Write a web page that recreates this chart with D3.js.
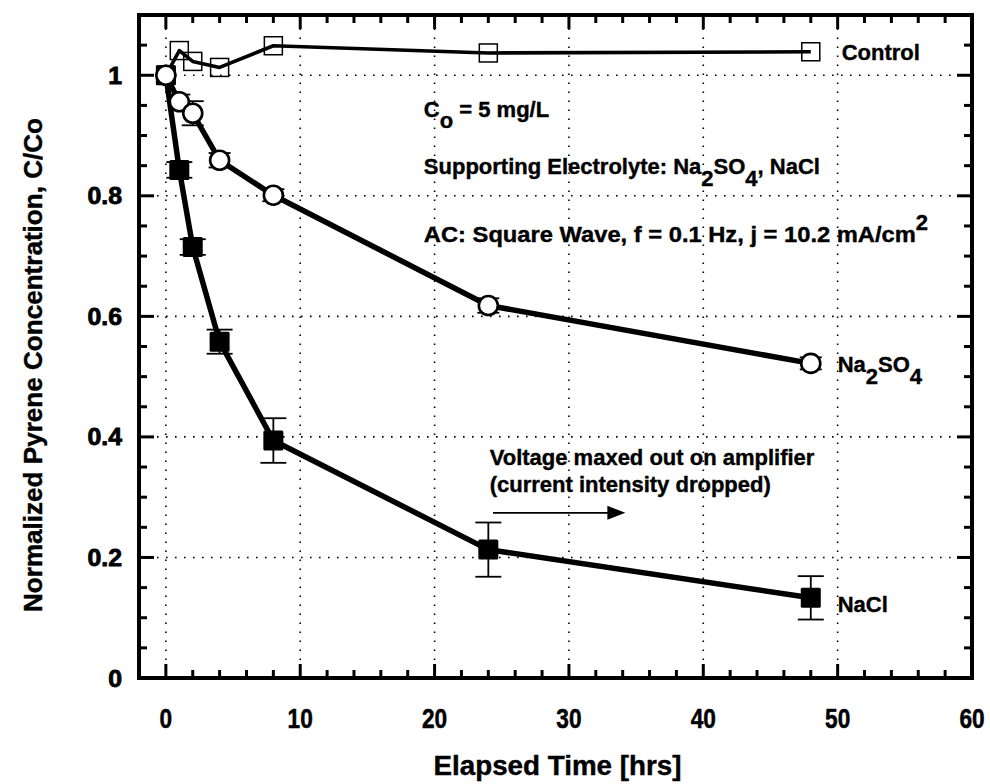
<!DOCTYPE html>
<html>
<head>
<meta charset="utf-8">
<script src="https://cdn.jsdelivr.net/npm/d3@7"></script>
<style>
  body { margin: 0; background: #fff; }
  text { font-family: "Liberation Sans", Arial, Helvetica, sans-serif; font-weight: bold; fill: #000; }
</style>
</head>
<body>
<svg id="chart" width="990" height="784"></svg>
<script>
// Elapsed time of each sample [hrs]
const hours = [0, 1, 2, 4, 8, 24, 48];

// Normalized pyrene concentration C/Co
const control = [1.0, 1.041, 1.023, 1.013, 1.049, 1.037, 1.039];
const na2so4 = [1.0, 0.956, 0.937, 0.859, 0.801, 0.618, 0.522];
const na2so4Err = [0.0, 0.012, 0.02, 0.012, 0.01, 0.012, 0.01];
const nacl = [1.0, 0.843, 0.715, 0.558, 0.394, 0.213, 0.133];
const naclErr = [0.0, 0.013, 0.013, 0.02, 0.037, 0.045, 0.036];

// Axis ticks
const xTicks = [0, 10, 20, 30, 40, 50, 60];
const xMinor = [2, 4, 6, 8, 12, 14, 16, 18, 22, 24, 26, 28, 32, 34, 36, 38, 42, 44, 46, 48, 52, 54, 56, 58];
const yTicks = [0, 0.2, 0.4, 0.6, 0.8, 1];
const yTickLabels = ["0", "0.2", "0.4", "0.6", "0.8", "1"];
const yMinor = [0.05, 0.1, 0.15, 0.25, 0.3, 0.35, 0.45, 0.5, 0.55, 0.65, 0.7, 0.75, 0.85, 0.9, 0.95, 1.05];

const W = 990, H = 784;
const m = { left: 139, right: 18, top: 15, bottom: 106 };
const svg = d3.select("#chart");

const x = d3.scaleLinear().domain([-2, 60]).range([m.left, W - m.right]);
const y = d3.scaleLinear().domain([0, 1.1]).range([H - m.bottom, m.top]);

const x0 = m.left, x1 = W - m.right, y0 = H - m.bottom, y1 = m.top;

// dotted grid at major ticks
const grid = svg.append("g").attr("stroke", "#000").attr("stroke-width", 1.6)
  .attr("stroke-dasharray", "1.6,7.4");
grid.selectAll("line.gx").data(xTicks.filter(v => v < 60)).join("line")
  .attr("x1", d => x(d)).attr("x2", d => x(d)).attr("y1", y0).attr("y2", y1);
grid.selectAll("line.gy").data(yTicks.filter(v => v > 0)).join("line")
  .attr("x1", x0).attr("x2", x1).attr("y1", d => y(d)).attr("y2", d => y(d));

// inward ticks on all four sides
const tickG = svg.append("g").attr("stroke", "#000").attr("stroke-width", 3);
function hTicks(vals, len) {
  vals.forEach(v => {
    tickG.append("line").attr("x1", x(v)).attr("x2", x(v)).attr("y1", y0).attr("y2", y0 - len);
    tickG.append("line").attr("x1", x(v)).attr("x2", x(v)).attr("y1", y1).attr("y2", y1 + len);
  });
}
function vTicks(vals, len) {
  vals.forEach(v => {
    tickG.append("line").attr("x1", x0).attr("x2", x0 + len).attr("y1", y(v)).attr("y2", y(v));
    tickG.append("line").attr("x1", x1).attr("x2", x1 - len).attr("y1", y(v)).attr("y2", y(v));
  });
}
hTicks(xTicks, 14); hTicks(xMinor, 8);
vTicks(yTicks, 15); vTicks(yMinor, 8);

// tick labels
svg.append("g").selectAll("text").data(xTicks).join("text")
  .attr("transform", d => `translate(${x(d)},728) scale(0.84,1)`)
  .attr("text-anchor", "middle").attr("font-size", 27)
  .attr("stroke", "#000").attr("stroke-width", 0.5)
  .text(d => d);
svg.append("g").selectAll("text").data(yTicks).join("text")
  .attr("transform", d => `translate(122,${y(d) + 8.5}) scale(1.08,1)`)
  .attr("text-anchor", "end").attr("font-size", 23)
  .attr("stroke", "#000").attr("stroke-width", 0.8)
  .text((d, i) => yTickLabels[i]);

// axis titles
svg.append("text").attr("x", (x0 + x1) / 2 + 2).attr("y", 775)
  .attr("text-anchor", "middle").attr("font-size", 27)
  .attr("stroke", "#000").attr("stroke-width", 0.4)
  .attr("textLength", 248).attr("lengthAdjust", "spacingAndGlyphs")
  .text("Elapsed Time [hrs]");
svg.append("text").attr("transform", "translate(42,365) rotate(-90)")
  .attr("text-anchor", "middle").attr("font-size", 25)
  .attr("stroke", "#000").attr("stroke-width", 0.4)
  .attr("textLength", 494).attr("lengthAdjust", "spacingAndGlyphs")
  .text("Normalized Pyrene Concentration, C/Co");

// series lines
const line = d3.line().x(d => x(d[0])).y(d => y(d[1]));
const pts = arr => hours.map((h, i) => [h, arr[i]]);

function errorBars(vals, errs, capHalf) {
  const g = svg.append("g").attr("stroke", "#000").attr("stroke-width", 1.8);
  hours.forEach((h, i) => {
    if (!errs[i]) return;
    const cx = x(h), top = y(vals[i] + errs[i]), bot = y(vals[i] - errs[i]);
    g.append("line").attr("x1", cx).attr("x2", cx).attr("y1", top).attr("y2", bot);
    g.append("line").attr("x1", cx - capHalf).attr("x2", cx + capHalf).attr("y1", top).attr("y2", top);
    g.append("line").attr("x1", cx - capHalf).attr("x2", cx + capHalf).attr("y1", bot).attr("y2", bot);
  });
}

// Control: open squares
svg.append("path").attr("d", line(pts(control)))
  .attr("fill", "none").attr("stroke", "#000").attr("stroke-width", 3.6).attr("stroke-linejoin", "round");
svg.append("g").selectAll("rect").data(pts(control)).join("rect")
  .attr("x", d => x(d[0]) - 9).attr("y", d => y(d[1]) - 9)
  .attr("width", 18).attr("height", 18)
  .attr("fill", "none").attr("stroke", "#000").attr("stroke-width", 1.5);

// NaCl: filled squares
svg.append("path").attr("d", line(pts(nacl)))
  .attr("fill", "none").attr("stroke", "#000").attr("stroke-width", 5.5).attr("stroke-linejoin", "round");
errorBars(nacl, naclErr, 13);
svg.append("g").selectAll("rect").data(pts(nacl)).join("rect")
  .attr("x", d => x(d[0]) - 10).attr("y", d => y(d[1]) - 10)
  .attr("width", 20).attr("height", 20).attr("rx", 1.5)
  .attr("fill", "#000");

// Na2SO4: open circles
svg.append("path").attr("d", line(pts(na2so4)))
  .attr("fill", "none").attr("stroke", "#000").attr("stroke-width", 5.5).attr("stroke-linejoin", "round");
errorBars(na2so4, na2so4Err, 11);
svg.append("g").selectAll("circle").data(pts(na2so4)).join("circle")
  .attr("cx", d => x(d[0])).attr("cy", d => y(d[1])).attr("r", 9.5)
  .attr("fill", "#fff").attr("stroke", "#000").attr("stroke-width", 2.6);

// frame
svg.append("rect").attr("x", x0).attr("y", y1).attr("width", x1 - x0).attr("height", y0 - y1)
  .attr("fill", "none").attr("stroke", "#000").attr("stroke-width", 4);

// annotations (positioned in data coordinates)
const ann = svg.append("g").attr("font-size", 22).attr("stroke", "#000").attr("stroke-width", 0.4);
function label(xv, yv, parts) {
  const t = ann.append("text").attr("x", x(xv)).attr("y", y(yv));
  parts.forEach(p => {
    const s = t.append("tspan").text(p.t);
    if (p.dy) s.attr("dy", p.dy);
    if (p.len) s.attr("textLength", p.len).attr("lengthAdjust", "spacingAndGlyphs");
  });
  return t;
}
label(50.3, 1.025, [{ t: "Control" }]);
label(19.2, 0.93, [{ t: "C" }, { t: "o", dy: 11 }, { t: " = 5 mg/L", dy: -11 }]);
label(19.2, 0.836, [{ t: "Supporting Electrolyte: Na" }, { t: "2", dy: 12 }, { t: "SO", dy: -12 },
  { t: "4", dy: 12 }, { t: ", NaCl", dy: -12 }]);
label(19.2, 0.723, [{ t: "AC: Square Wave, f = 0.1 Hz, j = 10.2 mA/cm", len: 492 }, { t: "2", dy: -12 }]);
label(50.0, 0.508, [{ t: "Na" }, { t: "2", dy: 12 }, { t: "SO", dy: -12 }, { t: "4", dy: 12 }]);
label(50.0, 0.1095, [{ t: "NaCl" }]);
label(24.1, 0.353, [{ t: "Voltage maxed out on amplifier" }]);
label(24.1, 0.309, [{ t: "(current intensity dropped)" }]);

// arrow
const ay = y(0.274), ax0 = x(24.35), ax1 = x(34.2);
svg.append("line").attr("x1", ax0).attr("x2", ax1 - 14).attr("y1", ay).attr("y2", ay)
  .attr("stroke", "#000").attr("stroke-width", 1.6);
svg.append("path")
  .attr("d", `M${ax1},${ay} L${ax1 - 18},${ay - 7} L${ax1 - 18},${ay + 7} Z`)
  .attr("fill", "#000");
</script>
</body>
</html>
